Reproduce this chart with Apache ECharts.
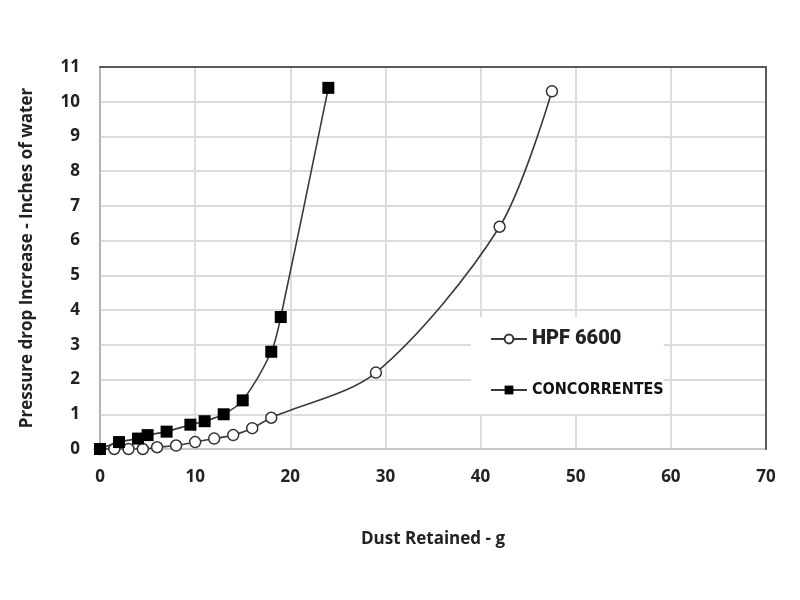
<!DOCTYPE html>
<html>
<head>
<meta charset="utf-8">
<script src="https://cdn.jsdelivr.net/npm/echarts@6/dist/echarts.min.js"></script>
<style>
  html, body { margin: 0; padding: 0; background: #fff; }
  #chart { width: 800px; height: 600px; }
</style>
</head>
<body>
<div id="chart"></div>
<script>
// dust retained (g) and pressure drop increase (in. water)
const hpfX = [0, 1.5, 3, 4.5, 6, 8, 10, 12, 14, 16, 18, 29, 42, 47.5]
const hpfY = [0, 0, 0, 0, 0.05, 0.1, 0.2, 0.3, 0.4, 0.6, 0.9, 2.2, 6.4, 10.3]
const concX = [0, 2, 4, 5, 7, 9.5, 11, 13, 15, 18, 19, 24]
const concY = [0, 0.2, 0.3, 0.4, 0.5, 0.7, 0.8, 1.0, 1.4, 2.8, 3.8, 10.4]

const pair = (xs, ys) => xs.map((x, i) => [x, ys[i]])

const labelFont = {
    color: '#222',
    fontFamily: 'Open Sans',
    fontWeight: 'bold',
    fontSize: 17
}

// dark frame on top and right, like the original
const frameAxis = {
    type: 'value',
    min: 0,
    axisLine: { show: true, onZero: false, lineStyle: { color: '#5a5a5a', width: 2 } },
    axisTick: { show: false },
    axisLabel: { show: false },
    splitLine: { show: false },
    z: 5
}

const myCharts = echarts.init(document.getElementById('chart'))
myCharts.setOption({
    animation: false,
    grid: {
        left: 100,
        right: 34,
        top: 67,
        bottom: 151
    },
    legend: {
        orient: 'vertical',
        left: 471,
        top: 317,
        backgroundColor: '#fff',
        padding: [12, 0, 16, 19],
        itemGap: 33,
        itemWidth: 36,
        itemHeight: 11,
        data: [
            {
                name: 'HPF 6600',
                textStyle: { fontFamily: 'Roboto', fontWeight: 900, fontSize: 20, color: '#222' }
            },
            {
                name: 'CONCORRENTES',
                textStyle: { fontFamily: 'Liberation Sans Narrow, DejaVu Sans Condensed', fontWeight: 'bold', fontSize: 16, color: '#111' }
            }
        ]
    },
    xAxis: [
        {
            type: 'value',
            min: 0,
            max: 70,
            interval: 10,
            name: 'Dust Retained - g',
            nameLocation: 'middle',
            nameGap: 82,
            nameTextStyle: labelFont,
            axisLine: { onZero: false, lineStyle: { color: '#c8c8c8', width: 2 } },
            axisTick: { show: false },
            axisLabel: Object.assign({ margin: 20 }, labelFont),
            splitLine: { lineStyle: { color: '#dcdcdc', width: 2 } }
        },
        Object.assign({ position: 'top', max: 70 }, frameAxis)
    ],
    yAxis: [
        {
            type: 'value',
            min: 0,
            max: 11,
            interval: 1,
            name: 'Pressure drop Increase - Inches of water',
            nameLocation: 'middle',
            nameGap: 64,
            nameTextStyle: labelFont,
            axisLine: { show: true, onZero: false, lineStyle: { color: '#b4b4b4', width: 2 } },
            axisTick: { show: false },
            axisLabel: Object.assign({ margin: 20 }, labelFont),
            splitLine: { lineStyle: { color: '#dcdcdc', width: 2 } }
        },
        Object.assign({ position: 'right', max: 11 }, frameAxis)
    ],
    series: [
        {
            name: 'HPF 6600',
            type: 'line',
            data: pair(hpfX, hpfY),
            smooth: 0.3,
            symbol: 'circle',
            symbolSize: 11,
            lineStyle: { color: '#3a3a3a', width: 1.6 },
            itemStyle: { color: '#fff', borderColor: '#333', borderWidth: 1.5 },
            z: 2
        },
        {
            name: 'CONCORRENTES',
            type: 'line',
            data: pair(concX, concY),
            smooth: 0.3,
            symbol: 'rect',
            symbolSize: 12,
            lineStyle: { color: '#3a3a3a', width: 1.6 },
            itemStyle: { color: '#000', borderColor: '#000', borderWidth: 0 },
            z: 3
        }
    ]
})
</script>
</body>
</html>
